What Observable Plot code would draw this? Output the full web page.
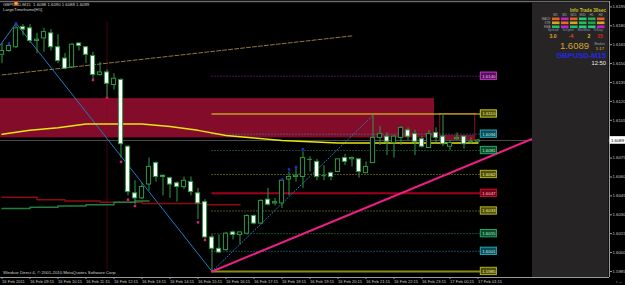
<!DOCTYPE html>
<html><head><meta charset="utf-8">
<script src="https://cdn.jsdelivr.net/npm/d3@7"></script>
<script src="https://cdn.jsdelivr.net/npm/@observablehq/plot@0.6"></script>
<style>
html,body{margin:0;padding:0;background:#000;}
#chart{position:relative;width:625px;height:285px;overflow:hidden;}
</style></head><body><div id="chart"></div>
<script>
// ---- Data (GBPUSD M15, 16 Feb 08:15 .. 17 Feb 01:15) ----
const opens  = [1.6157,1.6160,1.6163,1.6179,1.6178,1.6168,1.6170,1.6174,1.6163,1.6154,1.6147,1.6166,1.6163,1.6156,1.6141,1.6143,1.6133,1.6137,1.6084,1.6047,1.6043,1.6054,1.6071,1.6061,1.6059,1.6055,1.6052,1.6056,1.6047,1.6040,1.6012,1.6003,1.6002,1.6016,1.6014,1.6015,1.6029,1.6023,1.6042,1.6039,1.6039,1.6058,1.6060,1.6060,1.6074,1.6072,1.6061,1.6063,1.6064,1.6075,1.6074,1.6074,1.6063,1.6071,1.6091,1.6092,1.6087,1.6091,1.6097,1.6094,1.6090,1.6083,1.6095,1.6092,1.6084,1.6090,1.6092,1.6088,1.6088];
const highs  = [1.6166,1.6165,1.6181,1.6181,1.6181,1.6174,1.6178,1.6177,1.6173,1.6158,1.6166,1.6166,1.6163,1.6159,1.6151,1.6145,1.6142,1.6138,1.6085,1.6057,1.6055,1.6075,1.6072,1.6061,1.6060,1.6056,1.6060,1.6060,1.6051,1.6042,1.6014,1.6014,1.6016,1.6017,1.6016,1.6030,1.6030,1.6042,1.6051,1.6043,1.6057,1.6064,1.6067,1.6080,1.6076,1.6074,1.6069,1.6064,1.6074,1.6078,1.6076,1.6074,1.6072,1.6109,1.6100,1.6095,1.6093,1.6100,1.6099,1.6097,1.6092,1.6097,1.6099,1.6110,1.6089,1.6095,1.6092,1.6091,1.6090];
const lows   = [1.6150,1.6159,1.6162,1.6172,1.6166,1.6158,1.6159,1.6160,1.6150,1.6145,1.6146,1.6160,1.6150,1.6137,1.6140,1.6124,1.6129,1.6075,1.6045,1.6038,1.6042,1.6049,1.6056,1.6045,1.6043,1.6040,1.6050,1.6045,1.6026,1.6011,1.5985,1.5999,1.6001,1.6010,1.6006,1.6014,1.6022,1.6022,1.6037,1.6037,1.6035,1.6045,1.6056,1.6051,1.6064,1.6057,1.6057,1.6057,1.6064,1.6069,1.6068,1.6059,1.6063,1.6071,1.6085,1.6077,1.6075,1.6085,1.6089,1.6077,1.6083,1.6083,1.6087,1.6084,1.6081,1.6089,1.6082,1.6086,1.6088];
const closes = [1.6160,1.6164,1.6178,1.6177,1.6168,1.6169,1.6175,1.6163,1.6152,1.6146,1.6165,1.6164,1.6157,1.6141,1.6143,1.6134,1.6138,1.6086,1.6048,1.6043,1.6052,1.6068,1.6060,1.6060,1.6054,1.6052,1.6057,1.6048,1.6039,1.6012,1.6003,1.6000,1.6015,1.6014,1.6016,1.6029,1.6023,1.6041,1.6038,1.6040,1.6057,1.6060,1.6061,1.6075,1.6074,1.6060,1.6061,1.6060,1.6074,1.6072,1.6075,1.6064,1.6068,1.6091,1.6094,1.6088,1.6092,1.6099,1.6092,1.6088,1.6084,1.6094,1.6091,1.6086,1.6087,1.6091,1.6086,1.6088,1.6089];

// time axis
const xTickBars = [0,4,8,12,16,20,24,28,32,36,40,44,48,52,56,60,64,68];
const xTickLabels = ["16 Feb 2011","16 Feb 09:15","16 Feb 10:15","16 Feb 11:15","16 Feb 12:15","16 Feb 13:15","16 Feb 14:15","16 Feb 15:15","16 Feb 16:15","16 Feb 17:15","16 Feb 18:15","16 Feb 19:15","16 Feb 20:15","16 Feb 21:15","16 Feb 22:15","16 Feb 23:15","17 Feb 00:15","17 Feb 01:15"];
// price axis
const yTickValues = [1.5985,1.6000,1.6015,1.6030,1.6045,1.6060,1.6075,1.6090,1.6105,1.6120,1.6135,1.6150,1.6165,1.6180,1.6195];

// H1 moving average (yellow), sampled each hour
const maBars   = [0,4,8,12,16,20,24,28,32,36,40,44,48,52,56,60,64,68];
const maValues = [1.6094,1.6097,1.6099,1.6102,1.6102,1.6102,1.6100,1.6097,1.6093,1.6091,1.6089,1.6088,1.6087,1.6087,1.6087,1.6087,1.6087,1.6087];
// stepped higher-timeframe lines at lower left
const redMaBars = [0,5,9,14,20,29,34];
const redMaValues = [1.6044,1.6042,1.6041,1.6040,1.6039,1.6038,1.6038];
const greenMaBars = [0,4,8,12,16,19,21];
const greenMaValues = [1.6035,1.6036,1.6037,1.6038,1.6040,1.6041,1.6041];

// drawn objects
const zigzagBars = [-1,2,30];
const zigzagValues = [1.6159,1.6182,1.5985];
const fibAnchorBars = [30,53];
const fibAnchorValues = [1.5985,1.6109];
const fibLevels = [1.6140,1.6110,1.6094,1.6081,1.6062,1.6047,1.6033,1.6015,1.6001,1.5985];
const tanTrendBars = [0,50];
const tanTrendValues = [1.6141,1.6172];
const pinkTrendBars = [30,80];
const pinkTrendValues = [1.5985,1.6100];
const zoneBars = [-1,61.8];
const zoneValues = [1.6091,1.6122];
const vLineBar = 15;
const vLineValues = [1.5987,1.6183];
const upMarkBars = [1,2,40,41,42,43];
const upMarkValues = [1.6166,1.6182,1.6058,1.6066,1.6068,1.6082];
const downMarkBars = [13,15,17,18,19,28,29];
const downMarkValues = [1.6137,1.6123,1.6072,1.6042,1.6037,1.6024,1.6010];
const bid = 1.6089;

// ---- build tables ----
const bars = opens.map((o,i)=>({i, open:o, high:highs[i], low:lows[i], close:closes[i]}));
const pts = (xs,ys)=>xs.map((x,k)=>({i:x, p:ys[k]}));
const fib = fibLevels.map((p,k)=>({p,k}));
const fibStyle = [
  {line:"#a21fa8", box:"#5c0f60", edge:"#c43ac8", txt:"#f0c0f0", dash:"1,2", w:1},
  {line:"#e6e61a", box:"#4f4f0a", edge:"#c8c820", txt:"#f0f0a0", dash:null, w:1},
  {line:"#1e9db0", box:"#0c4d58", edge:"#22a8bc", txt:"#c0f0f8", dash:"1,2", w:1},
  {line:"#1f9a5c", box:"#0b4d2c", edge:"#22a864", txt:"#c0f0d0", dash:"1,2", w:1},
  {line:"#a6a21c", box:"#4f4f0a", edge:"#b0b020", txt:"#f0f0a0", dash:"1,2", w:1},
  {line:"#a0001c", box:"#7a0018", edge:"#c0102c", txt:"#f8c8d0", dash:null, w:2},
  {line:"#a6a21c", box:"#4f4f0a", edge:"#b0b020", txt:"#f0f0a0", dash:"1,2", w:1},
  {line:"#1f9a5c", box:"#0b4d2c", edge:"#22a864", txt:"#c0f0d0", dash:"1,2", w:1},
  {line:"#1e8fb8", box:"#0c4d58", edge:"#22a8bc", txt:"#c0f0f8", dash:"1,2", w:1},
  {line:"#8c8c12", box:"#4f4f0a", edge:"#b0b020", txt:"#f0f0a0", dash:null, w:2}
];
const fmt = d3.format(".4f");
const GREEN = "#2c9a46";
const FONT = "Liberation Sans, Arial, sans-serif";
const isDoji = d => Math.abs(d.open - d.close) < 0.00005;

const fibMarks = [];
fib.forEach(f => {
  const s = fibStyle[f.k];
  fibMarks.push(Plot.ruleY([f], {y:"p", x1:fibAnchorBars[0], x2:68.4, stroke:s.line, strokeWidth:s.w, strokeDasharray:s.dash}));
});

const chart = Plot.plot({
  width:625, height:285,
  marginLeft:0, marginRight:16, marginTop:1, marginBottom:8,
  style:{background:"#000", color:"#c8c8c8", fontFamily:FONT, fontSize:"4.5px", overflow:"visible"},
  x:{domain:[-1.5/7, 607.5/7], range:[0,609]},
  y:{domain:[1.59802,1.61993], range:[277,1]},
  color:{type:"identity"},
  marks:[
    // shaded zone
    Plot.rect([{}], {x1:zoneBars[0], x2:zoneBars[1], y1:zoneValues[0], y2:zoneValues[1], fill:"#820c2a"}),
    Plot.ruleY([zoneValues[1]], {x1:zoneBars[0], x2:zoneBars[1], stroke:"#c0142e", strokeDasharray:"1,1"}),
    Plot.rect([{}], {x1:62.6, x2:67.6, y1:1.6089, y2:1.6093, fill:"#820c2a"}),
    Plot.rect([{}], {x1:62.6, x2:67.6, y1:1.6089, y2:1.6110, stroke:"#8b1020", fill:"none"}),
    // bid line
    Plot.ruleY([bid], {stroke:"#4e4e4e"}),
    // vertical dotted line
    Plot.ruleX([vLineBar], {y1:vLineValues[0], y2:vLineValues[1], stroke:"#8b0a14", strokeDasharray:"1,1"}),
    // fib levels
    ...fibMarks,
    // trend lines
    Plot.line(pts(tanTrendBars,tanTrendValues), {x:"i", y:"p", stroke:"#8c7a40", strokeWidth:1, strokeDasharray:"4,2"}),
    Plot.line(pts(zigzagBars,zigzagValues), {x:"i", y:"p", stroke:"#1f7cc4", strokeWidth:1}),
    Plot.line(pts(fibAnchorBars,fibAnchorValues), {x:"i", y:"p", stroke:"#1f7cc4", strokeWidth:1, strokeDasharray:"1,2"}),
    Plot.line(pts(pinkTrendBars,pinkTrendValues), {x:"i", y:"p", stroke:"#ee1e86", strokeWidth:2}),
    // stepped MAs
    Plot.line(pts(redMaBars,redMaValues), {x:"i", y:"p", stroke:"#8e0c10", curve:"step-after"}),
    Plot.line(pts(greenMaBars,greenMaValues), {x:"i", y:"p", stroke:"#1e8040", curve:"step-after"}),
    Plot.line(pts(maBars,maValues), {x:"i", y:"p", stroke:"#e6e614", strokeWidth:1.5}),
    // candles
    Plot.ruleX(bars, {x:"i", y1:"low", y2:"high", stroke:GREEN}),
    Plot.rect(bars.filter(d=>!isDoji(d)), {x1:d=>d.i-0.3, x2:d=>d.i+0.3, y1:"open", y2:"close",
      fill:d=>d.close<d.open?"#ffffff":"#000000", stroke:GREEN}),
    Plot.ruleY(bars.filter(isDoji), {y:"close", x1:d=>d.i-0.35, x2:d=>d.i+0.35, stroke:GREEN}),
    // markers
    Plot.dot(pts(upMarkBars,upMarkValues), {x:"i", y:"p", fill:"#2828d8", r:1.4, symbol:"square"}),
    Plot.dot(pts(downMarkBars,downMarkValues), {x:"i", y:"p", fill:"#d0207a", r:1.4, symbol:"square"}),
    // fib labels
    Plot.rect(fib, {x1:68.4, x2:70.7, y1:d=>d.p-0.00029, y2:d=>d.p+0.00029, fill:d=>fibStyle[d.k].box, stroke:d=>fibStyle[d.k].edge}),
    Plot.text(fib, {x:69.55, y:"p", text:d=>fmt(d.p), fill:d=>fibStyle[d.k].txt, fontSize:4.3}),
    // frame
    Plot.ruleY([1.59802], {stroke:"#9a9a9a"}),
    Plot.ruleY([1.61993], {stroke:"#6a6a6a", strokeWidth:1.5}),
    Plot.ruleX([607.5/7], {stroke:"#9a9a9a"}),
    // axes
    Plot.axisY({anchor:"right", ticks:yTickValues, tickFormat:fmt, tickSize:2, tickPadding:1, fontSize:4.3, stroke:"#9a9a9a"}),
    Plot.axisX({anchor:"bottom", ticks:xTickBars, tickFormat:(d,i)=>xTickLabels[i], tickSize:2, tickPadding:1, fontSize:4.1, textAnchor:"start", stroke:"#9a9a9a"})
  ]
});
document.getElementById("chart").appendChild(chart);

// ---- overlays: header, copyright, info panel, bid label ----
const ys = chart.scale("y");
const svg = d3.select(chart);
const ov = svg.append("g").attr("font-family", FONT);
const txt = (g, s, x, y, size, fill, anchor="start", weight="normal") =>
  g.append("text").attr("x",x).attr("y",y).attr("font-size",size).attr("fill",fill)
   .attr("text-anchor",anchor).attr("font-weight",weight).text(s);

txt(ov, "GBPUSD,M15  1.6088 1.6090 1.6088 1.6089", 3, 6, 4.3, "#d0d0d0");
txt(ov, "LargeTimeframe[H1]", 3, 11, 4.3, "#d0d0d0");
ov.append("circle").attr("cx",16).attr("cy",3.5).attr("r",2.2).attr("fill","#e0b020").attr("stroke","#d02020").attr("stroke-width",0.8);
txt(ov, "Windsor Direct 4, \u00a9 2001-2010 MetaQuotes Software Corp.", 3, 273.5, 4.3, "#d0d0d0");

// info panel
const p = ov.append("g");
p.append("rect").attr("x",532).attr("y",2.5).attr("width",76.5).attr("height",274.5).attr("fill","#262424");
txt(p, "Info Trade 30sec", 606, 11.5, 4.6, "#c8c028", "end", "bold");
const cols = ["M1","M5","M15","M30","H1","H4"];
cols.forEach((c,k)=>txt(p, c, 555.5+9*k, 16, 3.2, "#a8a8a8", "middle"));
["MACD","STR","EMA"].forEach((r,k)=>txt(p, r, 550.5, 20+4*k, 3, "#a8a8a8", "end"));
const cellRows = [
  ["#e0602a","#c81ec8","#e0602a","#22d070","#22b050","#e0602a"],
  ["#e0a020","#e07020","#e0a020","#20c060","#20a050","#e0a020"],
  ["#22c060","#c81ec8","#22c060","#22d070","#22d070","#c81ec8"]
];
cellRows.forEach((row,r)=>row.forEach((c,k)=>p.append("rect").attr("x",552+9*k).attr("y",17.5+4*r).attr("width",7.5).attr("height",2.6).attr("fill",c)));
[["Spread",553],["ToOpen",568],["Min/Max",584],["%/Day",598]].forEach(([s,x])=>txt(p, s, x, 31, 3.3, "#7c9cc0", "middle"));
[["3.0",553,"#e0a020"],["-4",571,"#e04a20"],["2",589,"#e0c020"],["15",600,"#e02a20"]].forEach(([s,x,c])=>txt(p, s, x, 37.5, 5, c, "middle", "bold"));
txt(p, "1.6089", 589, 48.5, 9.5, "#d6a434", "end");
txt(p, "Broker", 605, 44.5, 3.6, "#8aa0c0", "end");
txt(p, "1:17", 604, 50, 4.2, "#e0c030", "end");
txt(p, "GBPUSD-M15", 606, 58, 7.6, "#2626e6", "end", "bold");
txt(p, "12:50", 606, 64.5, 5.8, "#eeeeee", "end");

// bid label on price axis
const by = ys.apply(bid);
ov.append("rect").attr("x",609.5).attr("y",by-3.8).attr("width",15.5).attr("height",7.6).attr("fill","#ffffff");
txt(ov, fmt(bid), 611, by+1.6, 4.3, "#000000");
</script></body></html>
